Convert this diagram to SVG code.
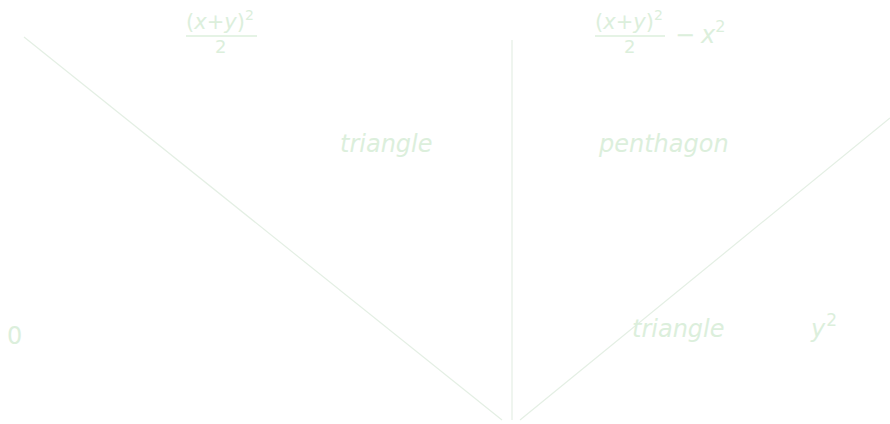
<svg xmlns="http://www.w3.org/2000/svg" width="890" height="424" viewBox="0 0 890 424">
<style>
text{font-family:"DejaVu Sans","Liberation Sans",sans-serif;fill:#dcefdc}
.it{font-style:italic}
.lbl{font-size:24px}
.num{font-size:21px}
.den{font-size:18px}
.ln{stroke:#e4efe4;stroke-width:1.2;fill:none}
.bar{stroke:#dcefdc;stroke-width:1.3}
</style>
<rect width="890" height="424" fill="#ffffff"/>
<g id="connectors">
<line class="ln" x1="24" y1="37" x2="502" y2="420"/>
<line class="ln" x1="512" y1="40" x2="512" y2="420"/>
<line class="ln" x1="520" y1="420" x2="890" y2="118"/>
</g>
<g id="top-left-formula">
<text class="num" x="186" y="29">(<tspan class="it">x</tspan>+<tspan class="it">y</tspan>)<tspan dy="-9" font-size="14">2</tspan></text>
<line class="bar" x1="186" y1="36" x2="257" y2="36"/>
<text class="den" x="215" y="53">2</text>
</g>
<g id="top-right-formula">
<text class="num" x="595" y="29">(<tspan class="it">x</tspan>+<tspan class="it">y</tspan>)<tspan dy="-9" font-size="14">2</tspan></text>
<line class="bar" x1="595" y1="36" x2="665" y2="36"/>
<text class="den" x="624" y="53">2</text>
<text class="lbl" x="675" y="43">−</text>
<text class="lbl it" x="701" y="43">x<tspan dy="-11" font-size="16" font-style="normal">2</tspan></text>
</g>
<g id="triangle-top">
<text class="lbl it" x="340" y="152">triangle</text>
</g>
<g id="penthagon">
<text class="lbl it" x="599" y="152">penthagon</text>
</g>
<g id="zero">
<text class="lbl" x="7" y="344" font-size="27">0</text>
</g>
<g id="triangle-bottom">
<text class="lbl it" x="632" y="337">triangle</text>
</g>
<g id="y-squared">
<text class="lbl it" x="811" y="337">y<tspan dx="1" dy="-11" font-size="17" font-style="normal">2</tspan></text>
</g>
</svg>
